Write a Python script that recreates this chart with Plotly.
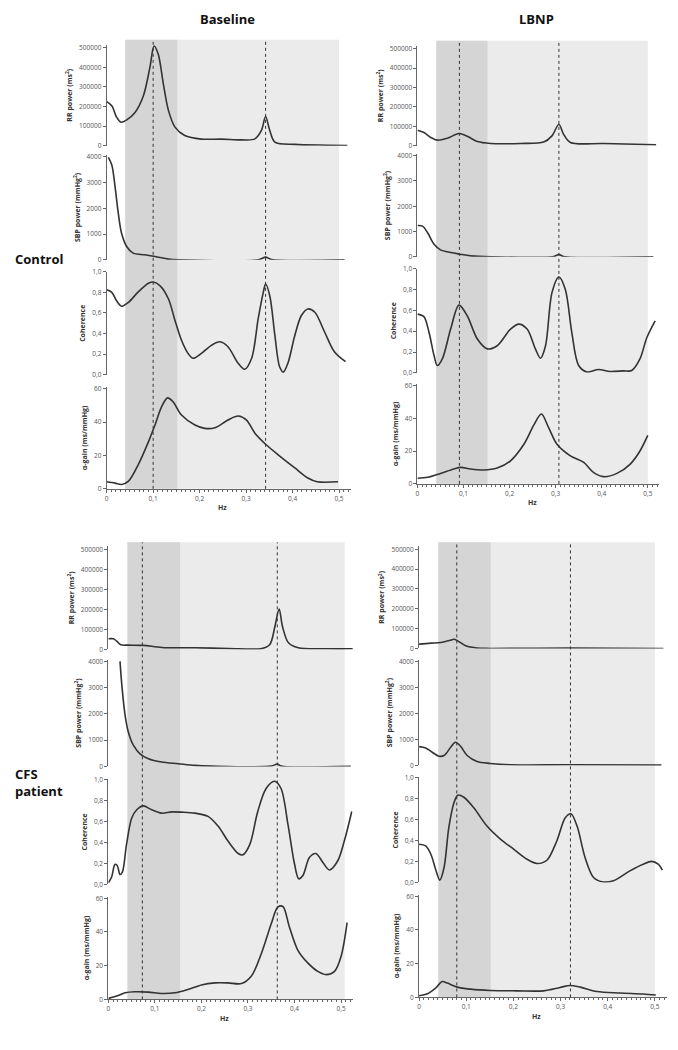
import plotly.graph_objects as go

W, H = 678, 1050

# ---------------- data (Hz, value) ----------------
# Control - Baseline
cb_rr_x = [0, 0.011, 0.0215, 0.031, 0.043, 0.061, 0.079, 0.093, 0.102, 0.111, 0.122, 0.133, 0.147, 0.168, 0.204, 0.247, 0.29, 0.319, 0.333, 0.342, 0.351, 0.362, 0.405, 0.476, 0.518]
cb_rr_y = [225000, 204000, 145000, 120000, 132000, 170000, 255000, 399000, 508000, 466000, 314000, 179000, 95000, 52000, 34000, 34000, 30000, 35000, 78000, 149000, 78000, 19000, 7000, 3000, 1000]
cb_sbp_x = [0.0036, 0.011, 0.018, 0.025, 0.032, 0.043, 0.057, 0.082, 0.104, 0.133, 0.154, 0.326, 0.342, 0.355, 0.512]
cb_sbp_y = [3975, 3680, 2840, 1800, 1030, 516, 258, 194, 129, 26, 0, 0, 103, 13, 0]
cb_coh_x = [0, 0.011, 0.021, 0.032, 0.047, 0.068, 0.09, 0.1, 0.115, 0.133, 0.147, 0.161, 0.175, 0.186, 0.204, 0.226, 0.244, 0.261, 0.283, 0.297, 0.312, 0.326, 0.337, 0.342, 0.351, 0.362, 0.372, 0.38, 0.39, 0.405, 0.419, 0.433, 0.448, 0.469, 0.49, 0.514]
cb_coh_y = [0.824, 0.80, 0.72, 0.665, 0.703, 0.805, 0.888, 0.90, 0.863, 0.735, 0.527, 0.335, 0.208, 0.16, 0.208, 0.288, 0.32, 0.272, 0.112, 0.054, 0.16, 0.543, 0.80, 0.88, 0.767, 0.383, 0.08, 0.026, 0.112, 0.383, 0.575, 0.639, 0.607, 0.415, 0.224, 0.128]
cb_gain_x = [0, 0.018, 0.032, 0.047, 0.068, 0.09, 0.104, 0.118, 0.131, 0.143, 0.161, 0.19, 0.211, 0.233, 0.261, 0.283, 0.301, 0.319, 0.342, 0.369, 0.405, 0.433, 0.453, 0.498]
cb_gain_y = [4.2, 3.4, 2.6, 4.6, 14.5, 28.3, 38.2, 49.1, 54.5, 52.1, 44.2, 38.2, 36.2, 36.6, 41.2, 43.6, 41.2, 33.3, 26.7, 20.4, 12.5, 6.5, 4.2, 4.2]

# Control - LBNP
cl_rr_x = [0, 0.014, 0.029, 0.043, 0.065, 0.09, 0.108, 0.13, 0.159, 0.224, 0.274, 0.292, 0.307, 0.317, 0.332, 0.404, 0.518]
cl_rr_y = [80000, 68000, 43000, 29000, 39000, 63000, 49000, 22000, 12000, 12000, 19000, 51000, 111000, 60000, 17000, 12000, 5000]
cl_sbp_x = [0, 0.011, 0.022, 0.036, 0.05, 0.072, 0.092, 0.115, 0.159, 0.296, 0.307, 0.317, 0.512]
cl_sbp_y = [1240, 1215, 954, 497, 275, 170, 105, 39, 0, 13, 92, 13, 0]
cl_coh_x = [0, 0.014, 0.025, 0.036, 0.043, 0.054, 0.072, 0.09, 0.108, 0.13, 0.152, 0.173, 0.202, 0.22, 0.238, 0.256, 0.267, 0.278, 0.292, 0.307, 0.321, 0.335, 0.35, 0.368, 0.393, 0.418, 0.447, 0.465, 0.483, 0.498, 0.516]
cl_coh_y = [0.564, 0.54, 0.389, 0.166, 0.07, 0.134, 0.42, 0.65, 0.548, 0.325, 0.23, 0.26, 0.42, 0.468, 0.42, 0.23, 0.14, 0.26, 0.77, 0.92, 0.80, 0.389, 0.07, 0.008, 0.032, 0.013, 0.019, 0.022, 0.134, 0.34, 0.50]
cl_gain_x = [0, 0.022, 0.05, 0.079, 0.094, 0.115, 0.144, 0.173, 0.202, 0.231, 0.253, 0.269, 0.285, 0.303, 0.332, 0.361, 0.382, 0.404, 0.433, 0.462, 0.483, 0.5]
cl_gain_y = [3.4, 4.0, 6.4, 9.1, 10.1, 9.1, 8.5, 9.7, 14.1, 24.2, 36.2, 42.7, 34.2, 24.2, 17.1, 13.1, 7.0, 4.4, 6.4, 12.1, 20.1, 29.6]

# CFS patient - Baseline
fb_rr_x = [0, 0.011, 0.018, 0.027, 0.043, 0.075, 0.115, 0.186, 0.258, 0.33, 0.347, 0.358, 0.367, 0.374, 0.387, 0.408, 0.473, 0.527]
fb_rr_y = [53000, 53000, 41000, 23000, 21500, 20000, 10000, 8300, 5000, 5000, 25000, 116000, 202000, 116000, 33000, 8300, 3300, 3300]
fb_sbp_x = [0.025, 0.029, 0.036, 0.043, 0.054, 0.068, 0.086, 0.114, 0.15, 0.186, 0.221, 0.35, 0.363, 0.371, 0.521]
fb_sbp_y = [4000, 3076, 1937, 1304, 797, 481, 291, 165, 101, 38, 13, 13, 89, 13, 0]
fb_coh_x = [0, 0.007, 0.014, 0.019, 0.025, 0.03, 0.039, 0.05, 0.061, 0.075, 0.093, 0.114, 0.136, 0.157, 0.186, 0.214, 0.236, 0.257, 0.279, 0.289, 0.304, 0.321, 0.339, 0.357, 0.371, 0.386, 0.4, 0.409, 0.418, 0.432, 0.446, 0.461, 0.475, 0.493, 0.507, 0.523]
fb_coh_y = [0.016, 0.07, 0.19, 0.18, 0.094, 0.116, 0.38, 0.63, 0.71, 0.747, 0.71, 0.678, 0.69, 0.6875, 0.678, 0.647, 0.553, 0.4125, 0.294, 0.281, 0.381, 0.694, 0.9125, 0.981, 0.9125, 0.569, 0.194, 0.053, 0.084, 0.256, 0.294, 0.209, 0.1375, 0.225, 0.4125, 0.694]
fb_gain_x = [0, 0.018, 0.036, 0.057, 0.086, 0.114, 0.143, 0.171, 0.2, 0.229, 0.257, 0.286, 0.307, 0.329, 0.35, 0.364, 0.375, 0.389, 0.407, 0.429, 0.45, 0.468, 0.486, 0.5, 0.513]
fb_gain_y = [0.6, 2.0, 3.9, 4.5, 4.3, 3.5, 3.9, 5.9, 8.6, 9.8, 9.8, 9.4, 13.7, 27.4, 44.9, 54.7, 55.1, 43.0, 29.3, 21.5, 16.6, 14.7, 16.6, 25.4, 45.5]

# CFS patient - LBNP
fl_rr_x = [0, 0.025, 0.046, 0.067, 0.074, 0.082, 0.099, 0.123, 0.151, 0.32, 0.518]
fl_rr_y = [21700, 26700, 30000, 41700, 46700, 38300, 13300, 1700, 0, 1700, 0]
fl_sbp_x = [0, 0.014, 0.028, 0.042, 0.053, 0.067, 0.077, 0.088, 0.102, 0.123, 0.151, 0.194, 0.32, 0.514]
fl_sbp_y = [724, 673, 508, 356, 381, 698, 889, 737, 381, 152, 76, 25, 25, 13]
fl_coh_x = [0, 0.014, 0.025, 0.035, 0.044, 0.053, 0.063, 0.074, 0.082, 0.095, 0.116, 0.144, 0.173, 0.201, 0.229, 0.25, 0.271, 0.292, 0.31, 0.322, 0.335, 0.352, 0.37, 0.391, 0.412, 0.447, 0.475, 0.493, 0.507, 0.516]
fl_coh_y = [0.363, 0.347, 0.268, 0.126, 0.022, 0.142, 0.52, 0.757, 0.83, 0.81, 0.71, 0.536, 0.41, 0.315, 0.22, 0.18, 0.211, 0.394, 0.615, 0.653, 0.536, 0.237, 0.047, 0.004, 0.016, 0.11, 0.173, 0.2, 0.173, 0.117]
fl_gain_x = [0, 0.018, 0.035, 0.049, 0.06, 0.081, 0.109, 0.151, 0.208, 0.264, 0.299, 0.32, 0.342, 0.377, 0.426, 0.475, 0.502]
fl_gain_y = [1.0, 2.2, 5.5, 9.4, 8.5, 6.1, 4.9, 4.1, 3.9, 3.9, 5.9, 7.1, 6.1, 3.5, 2.6, 2.0, 1.4]

# peak frequencies (dotted lines) per panel
cb_peaks = [0.1, 0.342]
cl_peaks = [0.091, 0.307]
fb_peaks = [0.073, 0.363]
fl_peaks = [0.08, 0.321]

# tick labels
rr_ticks = [0, 100000, 200000, 300000, 400000, 500000]
rr_text = ["0", "100000", "200000", "300000", "400000", "500000"]
sbp_ticks = [0, 1000, 2000, 3000, 4000]
sbp_text = ["0", "1000", "2000", "3000", "4000"]
coh_ticks = [0, 0.2, 0.4, 0.6, 0.8, 1.0]
coh_text = ["0,0", "0,2", "0,4", "0,6", "0,8", "1,0"]
gain_ticks = [0, 20, 40, 60]
gain_text = ["0", "20", "40", "60"]
hz_ticks = [0, 0.1, 0.2, 0.3, 0.4, 0.5]
hz_text = ["0", "0,1", "0,2", "0,3", "0,4", "0,5"]

ytitles = ["RR power (ms<sup>2</sup>)", "SBP power (mmHg<sup>2</sup>)", "Coherence", "α-gain (ms/mmHg)"]
col_titles = ["Baseline", "LBNP"]
row_titles = ["Control", "CFS<br>patient"]

# ---------------- layout geometry (pixels) ----------------
XMAX = 0.525
panels = [
    dict(series=[(cb_rr_x, cb_rr_y), (cb_sbp_x, cb_sbp_y), (cb_coh_x, cb_coh_y), (cb_gain_x, cb_gain_y)],
         peaks=cb_peaks, x0=105, ppx=466, zero=[142, 257, 373, 488], top=[43, 153, 269, 387],
         shade_top=35, light_end=0.5, dark=(0.04, 0.152)),
    dict(series=[(cl_rr_x, cl_rr_y), (cl_sbp_x, cl_sbp_y), (cl_coh_x, cl_coh_y), (cl_gain_x, cl_gain_y)],
         peaks=cl_peaks, x0=416.7, ppx=462, zero=[142, 254, 371, 483], top=[44, 152, 266, 384],
         shade_top=36, light_end=0.5, dark=(0.041, 0.152)),
    dict(series=[(fb_rr_x, fb_rr_y), (fb_sbp_x, fb_sbp_y), (fb_coh_x, fb_coh_y), (fb_gain_x, fb_gain_y)],
         peaks=fb_peaks, x0=106.7, ppx=466.7, zero=[650, 768, 887, 1003], top=[549, 662, 781, 901],
         shade_top=542, light_end=0.508, dark=(0.041, 0.154)),
    dict(series=[(fl_rr_x, fl_rr_y), (fl_sbp_x, fl_sbp_y), (fl_coh_x, fl_coh_y), (fl_gain_x, fl_gain_y)],
         peaks=fl_peaks, x0=418.3, ppx=473, zero=[649, 767, 885, 1001], top=[549, 662, 779, 899],
         shade_top=542, light_end=0.5, dark=(0.041, 0.152)),
]
tickmax = [500000, 4000, 1.0, 60]
rmax = [515000, 4060, 1.0, 61]
yticks = [(rr_ticks, rr_text), (sbp_ticks, sbp_text), (coh_ticks, coh_text), (gain_ticks, gain_text)]

LINE = "#333333"
AXC = "#666666"
FONT = "Open Sans"

fig = go.Figure()
layout = dict(width=W, height=H, margin=dict(l=0, r=0, t=0, b=0),
              paper_bgcolor="white", plot_bgcolor="rgba(0,0,0,0)",
              showlegend=False, font=dict(family=FONT, color="#444"))
shapes, annotations = [], []

def py(p):
    return 1 - p / H

idx = 0
for pi, p in enumerate(panels):
    xd = [p["x0"] / W, (p["x0"] + XMAX * p["ppx"]) / W]
    for si in range(4):
        idx += 1
        xs, ys = p["series"][si]
        xa = "x" if idx == 1 else f"x{idx}"
        ya = "y" if idx == 1 else f"y{idx}"
        fig.add_trace(go.Scatter(x=xs, y=ys, mode="lines", xaxis=xa, yaxis=ya,
                                 line=dict(color=LINE, width=1.6, shape="spline", smoothing=0.9),
                                 hoverinfo="skip"))
        z, t = p["zero"][si], p["top"][si]
        toppx = z - (z - t) * rmax[si] / tickmax[si]
        yd = [py(z), py(toppx)]
        tv, tt = yticks[si]
        layout[f"yaxis{'' if idx == 1 else idx}"] = dict(
            domain=yd, range=[0, rmax[si]], anchor=xa, showgrid=False, zeroline=False,
            showline=True, linecolor=AXC, linewidth=1, ticks="outside", ticklen=3,
            tickcolor=AXC, tickmode="array", tickvals=tv, ticktext=tt,
            tickfont=dict(size=6.5, color="#555", family=FONT), fixedrange=True,
            title=dict(text=f"<b>{ytitles[si]}</b>", standoff=5,
                       font=dict(size=7, color="#333", family=FONT)))
        is_bottom = si == 3
        xax = dict(domain=xd, range=[0, XMAX], anchor=ya, showgrid=False, zeroline=False,
                   fixedrange=True)
        if is_bottom:
            xax.update(showline=True, linecolor=AXC, linewidth=1, ticks="outside", ticklen=3,
                       tickcolor=AXC, tickmode="array", tickvals=hz_ticks, ticktext=hz_text,
                       tickfont=dict(size=6.5, color="#555", family=FONT),
                       minor=dict(ticks="outside", ticklen=2, tickcolor=AXC, dtick=0.01, tick0=0))
        else:
            xax.update(visible=False)
        layout[f"xaxis{'' if idx == 1 else idx}"] = xax
    bx = "x" if idx - 3 == 1 else f"x{idx}"
    # shading bands and dotted peak lines, referenced to this panel's bottom x-axis
    ytop, ybot = py(p["shade_top"]), py(p["zero"][3])
    shapes.append(dict(type="rect", xref=bx, yref="paper", x0=p["dark"][0], x1=p["light_end"],
                       y0=ybot, y1=ytop, fillcolor="#ebebeb", line=dict(width=0), layer="below"))
    shapes.append(dict(type="rect", xref=bx, yref="paper", x0=p["dark"][0], x1=p["dark"][1],
                       y0=ybot, y1=ytop, fillcolor="#d5d5d5", line=dict(width=0), layer="below"))
    for f in p["peaks"]:
        shapes.append(dict(type="line", xref=bx, yref="paper", x0=f, x1=f, y0=ybot, y1=ytop,
                           line=dict(color="#333", width=1, dash="dot"), layer="above"))
    # Hz label centred under the 0-0.5 Hz span
    annotations.append(dict(text="<b>Hz</b>", xref="paper", yref="paper",
                            x=(p["x0"] + 0.25 * p["ppx"]) / W, y=py(p["zero"][3] + 19),
                            showarrow=False, font=dict(size=7, color="#333", family=FONT),
                            xanchor="center", yanchor="middle"))

# column and row titles
for ct, cx in zip(col_titles, [226, 536]):
    annotations.append(dict(text=f"<b>{ct}</b>", xref="paper", yref="paper", x=cx / W, y=py(14),
                            showarrow=False, font=dict(size=13, color="#111", family=FONT),
                            xanchor="center", yanchor="middle"))
for rt, ry in zip(row_titles, [256, 784]):
    annotations.append(dict(text=f"<b>{rt}</b>", xref="paper", yref="paper", x=11 / W, y=py(ry),
                            showarrow=False, font=dict(size=13, color="#111", family=FONT),
                            xanchor="left", yanchor="middle", align="left"))

layout["shapes"] = shapes
layout["annotations"] = annotations
fig.update_layout(**layout)
fig.write_html("out.html", config={"displayModeBar": False},
               post_script="document.body.style.margin='0';document.body.style.overflow='hidden';")
